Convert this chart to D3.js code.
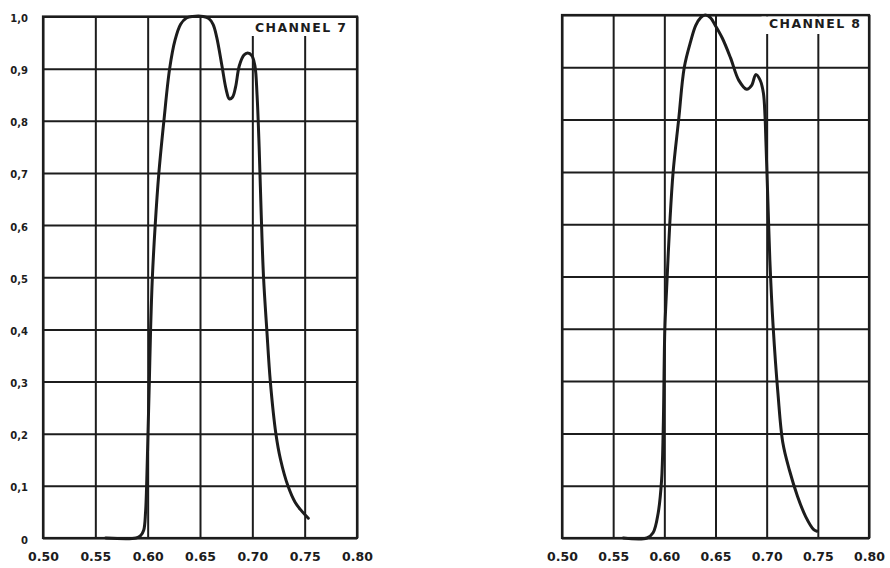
<!DOCTYPE html>
<html>
<head>
<meta charset="utf-8">
<script src="https://cdn.jsdelivr.net/npm/d3@7"></script>
<style>
  html, body { margin: 0; padding: 0; background: #fff; }
  svg { display: block; }
</style>
</head>
<body>
<div id="chart"></div>
<script>
// ---------- data ----------
const xTicks = [0.50, 0.55, 0.60, 0.65, 0.70, 0.75, 0.80];
const xTickLabels = ["0.50", "0.55", "0.60", "0.65", "0.70", "0.75", "0.80"];
const yTicks = [0, 0.1, 0.2, 0.3, 0.4, 0.5, 0.6, 0.7, 0.8, 0.9, 1.0];
const yTickLabels = ["0", "0,1", "0,2", "0,3", "0,4", "0,5", "0,6", "0,7", "0,8", "0,9", "1,0"];
const panelTitles = ["CHANNEL 7", "CHANNEL 8"];

const ch7Wavelength = [0.560, 0.589, 0.593, 0.5962, 0.598, 0.599, 0.6003, 0.6016, 0.6028, 0.6045,
  0.6072, 0.6107, 0.6155, 0.621, 0.6262, 0.6315, 0.637, 0.643, 0.653, 0.6585, 0.6625, 0.666, 0.671,
  0.675, 0.678, 0.681, 0.684, 0.6875, 0.692, 0.6955, 0.6995, 0.7025, 0.7045, 0.7065, 0.7085, 0.7107,
  0.7138, 0.7172, 0.7225, 0.727, 0.734, 0.741, 0.747, 0.7535];
const ch7Response = [0, 0, 0.004, 0.015, 0.05, 0.1, 0.2, 0.3, 0.4, 0.5,
  0.6, 0.7, 0.8, 0.9, 0.955, 0.985, 0.997, 1.0, 1.0, 0.996, 0.985, 0.96, 0.905,
  0.86, 0.842, 0.845, 0.865, 0.905, 0.926, 0.93, 0.925, 0.905, 0.85, 0.75, 0.62, 0.5,
  0.4, 0.3, 0.2, 0.15, 0.1, 0.068, 0.052, 0.038];

const ch8Wavelength = [0.560, 0.583, 0.589, 0.594, 0.5973, 0.5989, 0.6005, 0.6022, 0.6053, 0.6086,
  0.614, 0.6195, 0.6258, 0.6307, 0.6355, 0.640, 0.645, 0.6498, 0.6566, 0.6647, 0.6728, 0.6805,
  0.6855, 0.6893, 0.6935, 0.6968, 0.6984, 0.6993, 0.7012, 0.7031, 0.7063, 0.711, 0.7158,
  0.7222, 0.7301, 0.7381, 0.746, 0.7491];
const ch8Response = [0, 0, 0.01, 0.048, 0.11, 0.207, 0.4, 0.475, 0.6, 0.7,
  0.8, 0.9, 0.95, 0.98, 0.995, 1.0, 0.995, 0.98, 0.956, 0.918, 0.875, 0.858,
  0.866, 0.886, 0.876, 0.851, 0.806, 0.756, 0.644, 0.532, 0.405, 0.277, 0.182,
  0.13, 0.08, 0.041, 0.016, 0.013];

// ---------- layout ----------
const W = 890, H = 568;
const ink = "#1c1c1c";
const panels = [
  { left: 43, right: 357, top: 16.5, bottom: 538, yLabels: true, wl: ch7Wavelength, resp: ch7Response,
    title: panelTitles[0], titleX: 255, titleY: 32, maskFrom: 0.692, maskBottom: 36 },
  { left: 562, right: 869, top: 15, bottom: 538, yLabels: false, wl: ch8Wavelength, resp: ch8Response,
    title: panelTitles[1], titleX: 769, titleY: 28, maskFrom: 0.695, maskBottom: 34 }
];

const svg = d3.select("#chart").append("svg")
  .attr("width", W).attr("height", H)
  .attr("viewBox", `0 0 ${W} ${H}`);
svg.append("rect").attr("width", W).attr("height", H).attr("fill", "#fff");

panels.forEach(p => {
  const g = svg.append("g");
  const x = d3.scaleLinear().domain([0.5, 0.8]).range([p.left, p.right]);
  const y = d3.scaleLinear().domain([0, 1]).range([p.bottom, p.top]);

  // vertical grid + x labels
  const gx = g.append("g")
    .attr("transform", `translate(0,${p.bottom})`)
    .call(d3.axisBottom(x).tickValues(xTicks).tickSize(-(p.bottom - p.top)).tickPadding(14)
      .tickFormat((d, i) => xTickLabels[i]));
  gx.select(".domain").remove();
  gx.selectAll(".tick line").attr("stroke", ink).attr("stroke-width", 2);
  gx.selectAll(".tick text").attr("fill", ink)
    .style("font-family", "'DejaVu Sans', sans-serif").style("font-weight", "bold")
    .style("font-size", "12.5px");

  // horizontal grid + y labels
  const gy = g.append("g")
    .attr("transform", `translate(${p.left},0)`)
    .call(d3.axisLeft(y).tickValues(yTicks).tickSize(-(p.right - p.left)).tickPadding(15)
      .tickFormat((d, i) => p.yLabels ? yTickLabels[i] : ""));
  gy.select(".domain").remove();
  gy.selectAll(".tick line").attr("stroke", ink).attr("stroke-width", 2);
  gy.selectAll(".tick text").attr("fill", ink).attr("dy", "0.5em")
    .style("font-family", "'DejaVu Sans', sans-serif").style("font-weight", "bold")
    .style("font-size", "10px");

  // white patch under the channel label
  g.append("rect")
    .attr("x", x(p.maskFrom)).attr("y", p.top + 1.5)
    .attr("width", p.right - 1.5 - x(p.maskFrom))
    .attr("height", p.maskBottom - p.top - 1.5)
    .attr("fill", "#fff");

  // frame
  g.append("rect")
    .attr("x", p.left).attr("y", p.top)
    .attr("width", p.right - p.left).attr("height", p.bottom - p.top)
    .attr("fill", "none").attr("stroke", ink).attr("stroke-width", 2.2);

  // curve
  const line = d3.line()
    .x((d, i) => x(p.wl[i]))
    .y((d, i) => y(p.resp[i]))
    .curve(d3.curveCatmullRom.alpha(0.5));
  g.append("path")
    .datum(p.resp)
    .attr("d", line)
    .attr("fill", "none").attr("stroke", ink)
    .attr("stroke-width", 3).attr("stroke-linejoin", "round").attr("stroke-linecap", "round");

  // title
  g.append("text")
    .attr("x", p.titleX).attr("y", p.titleY)
    .attr("fill", ink)
    .style("font-family", "'DejaVu Sans', sans-serif").style("font-weight", "bold")
    .style("font-size", "12.5px").style("letter-spacing", "1.4px")
    .text(p.title);
});
</script>
</body>
</html>
